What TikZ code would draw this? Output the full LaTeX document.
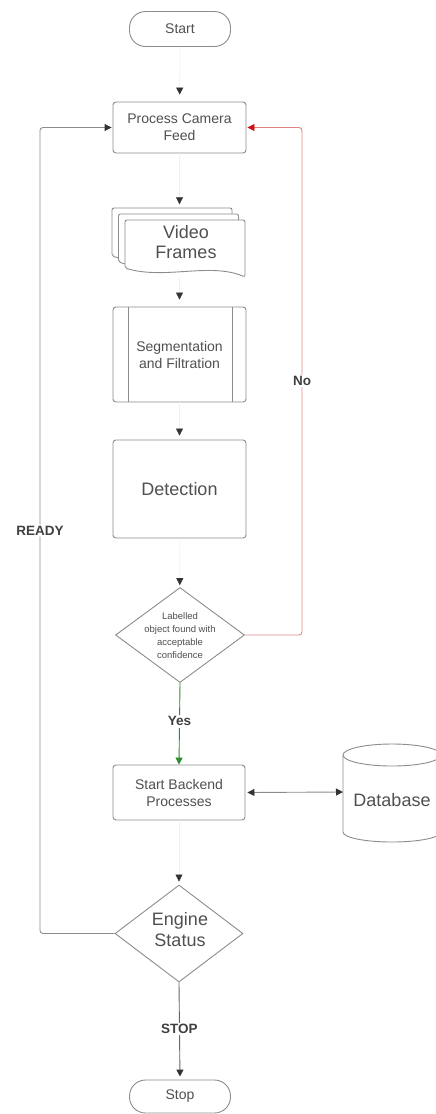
\documentclass[tikz,border=0pt]{standalone}
\usepackage{fontspec}
\setmainfont{Liberation Sans}
\usetikzlibrary{arrows.meta,shapes.geometric,calc}
\definecolor{edge}{HTML}{8C8C8C}
\definecolor{txt}{HTML}{505050}
\definecolor{redl}{HTML}{E08585}
\definecolor{redh}{HTML}{D01010}
\definecolor{grn}{HTML}{2E8B2E}
\definecolor{faint}{HTML}{F0F0F0}
\begin{document}
\begin{tikzpicture}[x=1pt,y=-1pt,
  box/.style={draw=edge, line width=0.9pt, rounded corners=3pt, fill=white, text=txt, align=center, font=\fontsize{14}{17}\selectfont, inner sep=0pt},
  term/.style={box, rounded corners=16pt},
  dia/.style={diamond, draw=edge, line width=0.9pt, fill=white, inner sep=0pt},
  dtext/.style={text=txt, align=center},
  tip/.style={-{Triangle[length=7pt,width=7pt,color=black!80]}},
  faintline/.style={draw=faint, line width=0.6pt, tip},
  conn/.style={draw=edge, line width=0.9pt, tip, rounded corners=3pt},
  lab/.style={font=\bfseries\fontsize{13.5}{15}\selectfont, text=black!75, fill=white, inner sep=1.5pt},
  sheet/.style={draw=edge, line width=0.9pt, fill=white, rounded corners=2pt},
]
\useasboundingbox (0,0) rectangle (436,1114);
\clip (0,0) rectangle (436,1114);

% nodes
\node[term, minimum width=101pt, minimum height=35pt] (start) at (180,29) {Start};
\node[box, minimum width=133pt, minimum height=51pt] (proc) at (179.5,127.5) {Process Camera\\Feed};

% video frames (multi-document)
\foreach \k in {0,1,2} {
  \pgfmathsetmacro\L{112+6.5*\k}
  \pgfmathsetmacro\T{208+6*\k}
  \draw[sheet] (\L,\T) -- (\L+120,\T) -- (\L+120,\T+57)
    .. controls (\L+85,\T+42) and (\L+40,\T+60) .. (\L,\T+48) -- cycle;
}
\node[minimum width=133pt, minimum height=70pt, inner sep=0pt] (video) at (179.5,242.5) {};
\node[text=txt, align=center, font=\fontsize{18}{20}\selectfont] at (186,242) {Video\\Frames};

\node[box, minimum width=133pt, minimum height=95pt] (seg) at (179.5,354.5) {Segmentation\\and Filtration};
\draw[draw=edge, line width=0.9pt] (128,307) -- (128,402) (232,307) -- (232,402);

\node[box, minimum width=133pt, minimum height=98pt, font=\fontsize{18}{20}\selectfont] (det) at (179.5,489) {Detection};

\node[dia, minimum width=129pt, minimum height=95pt] (dec) at (180,635) {};
\node[dtext, font=\fontsize{9.5}{13}\selectfont] at (180,636) {Labelled\\object found with\\acceptable\\confidence};

\node[box, minimum width=132pt, minimum height=55pt] (back) at (179,792.5) {Start Backend\\Processes};

% database cylinder
\coordinate (dbl) at (343,792);
\draw[draw=edge, line width=0.9pt, fill=white] (343,755) -- (343,832)
  arc[start angle=180, end angle=360, x radius=49pt, y radius=10pt] -- (441,755);
\draw[draw=edge, line width=0.9pt, fill=white] (392,755) ellipse[x radius=49pt, y radius=11pt];
\node[text=txt, font=\fontsize{18}{20}\selectfont] (db) at (392,800) {Database};

\node[dia, minimum width=128pt, minimum height=97pt] (eng) at (179,933.5) {};
\node[dtext, font=\fontsize{18}{21}\selectfont] at (180,930) {Engine\\Status};

\node[term, minimum width=101pt, minimum height=33pt] (stop) at (180,1096.5) {Stop};

% connectors (faint lines, visible heads)
\draw[faintline, shorten >=7pt] (start) -- (proc);
\draw[faintline, shorten >=3pt] (proc) -- (video);
\draw[faintline, shorten >=7pt] (video.south) -- (seg);
\draw[faintline, shorten >=4pt] (seg) -- (det);
\draw[faintline, shorten >=2pt] (det) -- (dec);
\draw[faintline, shorten >=3pt] (back) -- (eng);

% READY loop
\coordinate (rl) at (40,933.5);
\coordinate (ru) at (40,127.5);
\draw[conn, shorten >=1pt] (eng.west) -- (rl) -- node[lab, pos=0.5] {READY} (ru) -- (proc.west);

% No loop
\coordinate (nl) at (302,635);
\coordinate (nu) at (302,127.5);
\draw[draw=redl, line width=0.9pt, rounded corners=3pt, -{Triangle[length=7pt,width=7pt,color=redh]}, shorten >=1pt]
  (dec.east) -- (nl) -- node[lab, pos=0.5] {No} (nu) -- (proc.east);

% Yes
\draw[draw=grn, line width=0.9pt, -{Triangle[length=7pt,width=7pt,color=grn]}]
  (dec.south) -- node[lab, pos=0.47] {Yes} (back.north);

% backend <-> database
\draw[draw=edge, line width=0.9pt, {Triangle[length=7pt,width=7pt,color=black!80]}-{Triangle[length=7pt,width=7pt,color=black!80]}, shorten <=2pt]
  (back.east) -- (dbl);

% STOP
\draw[draw=black!60, line width=0.9pt, tip, shorten >=3pt]
  (eng.south) -- node[lab, pos=0.48] {STOP} (stop.north);
\end{tikzpicture}
\end{document}
